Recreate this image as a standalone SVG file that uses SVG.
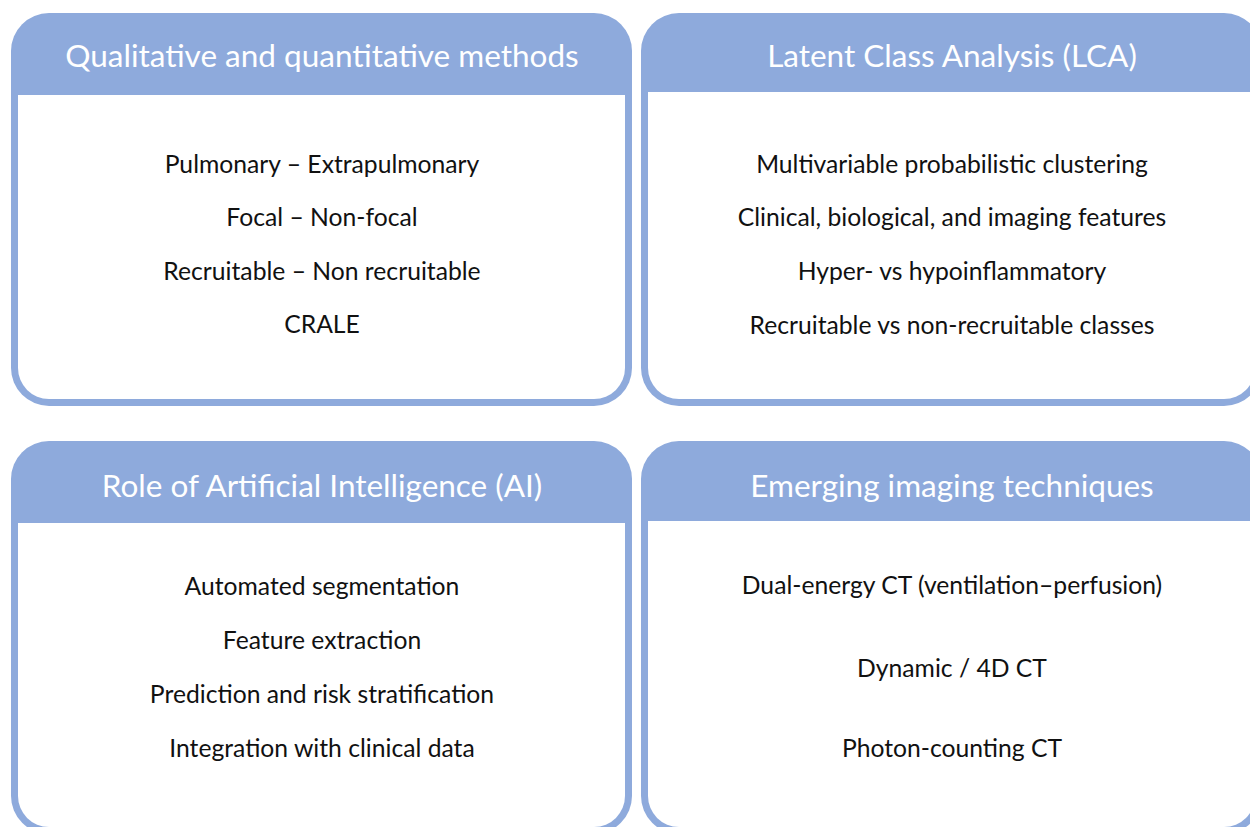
<svg xmlns="http://www.w3.org/2000/svg" width="1250" height="827" viewBox="0 0 1250 827">
  <style>
    .frame { fill: #8eaadc; }
    .inner { fill: #ffffff; }
    .head { font-family: "Lato", "Liberation Sans", sans-serif; font-size: 31.5px; fill: #ffffff; text-anchor: middle; }
    .item { font-family: "Lato", "Liberation Sans", sans-serif; font-size: 24.7px; fill: #111111; text-anchor: middle; }
  </style>
  <rect width="1250" height="827" fill="#ffffff"/>

  <!-- top-left panel -->
  <g id="panel-methods">
    <rect class="frame" x="11" y="13" width="621" height="393" rx="38" ry="38"/>
    <path class="inner" d="M18 95 H625 V368 A31 31 0 0 1 594 399 H49 A31 31 0 0 1 18 368 Z"/>
    <text class="head" x="322" y="67">Qualitative and quantitative methods</text>
    <text class="item" x="322" y="173">Pulmonary – Extrapulmonary</text>
    <text class="item" x="322" y="226">Focal – Non-focal</text>
    <text class="item" x="322" y="280">Recruitable – Non recruitable</text>
    <text class="item" x="322" y="333">CRALE</text>
  </g>

  <!-- top-right panel -->
  <g id="panel-lca">
    <rect class="frame" x="641" y="13" width="621" height="393" rx="38" ry="38"/>
    <path class="inner" d="M648 92 H1255 V368 A31 31 0 0 1 1224 399 H679 A31 31 0 0 1 648 368 Z"/>
    <text class="head" x="952" y="67">Latent Class Analysis (LCA)</text>
    <text class="item" x="952" y="173">Multivariable probabilistic clustering</text>
    <text class="item" x="952" y="226">Clinical, biological, and imaging features</text>
    <text class="item" x="952" y="280">Hyper- vs hypoinflammatory</text>
    <text class="item" x="952" y="334">Recruitable vs non-recruitable classes</text>
  </g>

  <!-- bottom-left panel -->
  <g id="panel-ai">
    <rect class="frame" x="11" y="441" width="621" height="393" rx="38" ry="38"/>
    <path class="inner" d="M18 523 H625 V796 A31 31 0 0 1 594 827 H49 A31 31 0 0 1 18 796 Z"/>
    <text class="head" x="322" y="497">Role of Artificial Intelligence (AI)</text>
    <text class="item" x="322" y="595">Automated segmentation</text>
    <text class="item" x="322" y="649">Feature extraction</text>
    <text class="item" x="322" y="703">Prediction and risk stratification</text>
    <text class="item" x="322" y="757">Integration with clinical data</text>
  </g>

  <!-- bottom-right panel -->
  <g id="panel-imaging">
    <rect class="frame" x="641" y="441" width="621" height="393" rx="38" ry="38"/>
    <path class="inner" d="M648 521 H1255 V796 A31 31 0 0 1 1224 827 H679 A31 31 0 0 1 648 796 Z"/>
    <text class="head" x="952" y="497">Emerging imaging techniques</text>
    <text class="item" x="952" y="594">Dual-energy CT (ventilation–perfusion)</text>
    <text class="item" x="952" y="677">Dynamic / 4D CT</text>
    <text class="item" x="952" y="757">Photon-counting CT</text>
  </g>

  <g id="connectors"/>
</svg>
